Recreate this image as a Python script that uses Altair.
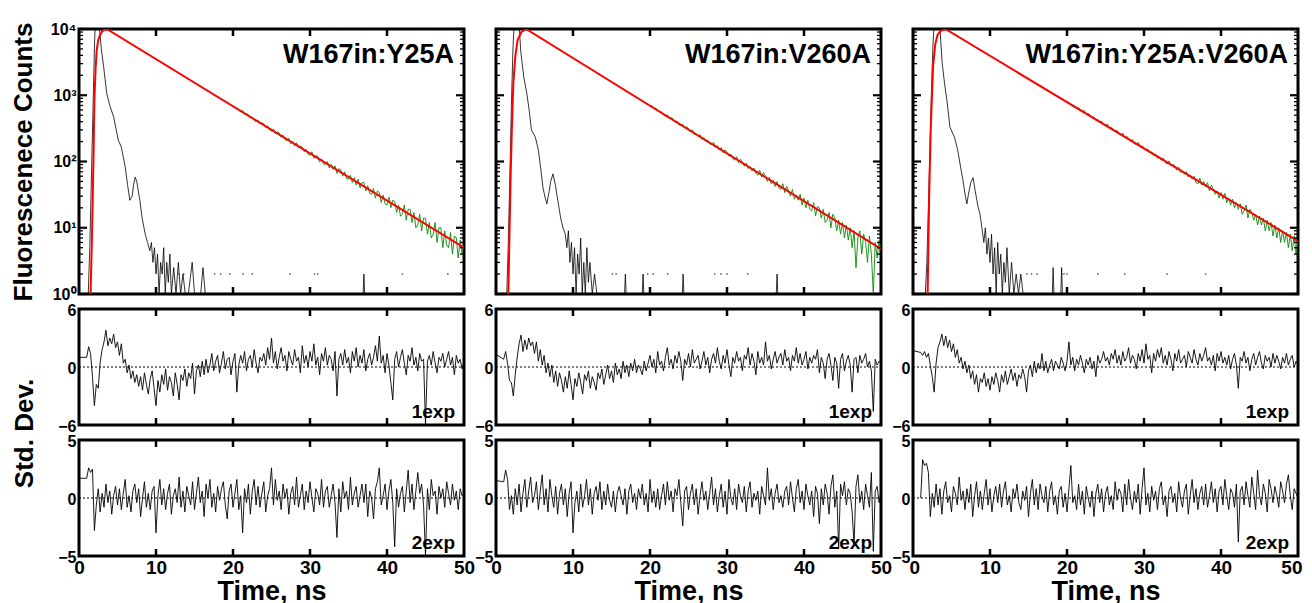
import altair as alt
import pandas as pd

FONT = "Liberation Sans"
W, HT, HR = 385, 265, 116

TITLES = ["W167in:Y25A", "W167in:V260A", "W167in:Y25A:V260A"]
XTICKS = [10, 20, 30, 40]
XLABELS = [0, 10, 20, 30, 40, 50]
LOG_MAJOR = [1, 10, 100, 1000, 10000]
LOG_MINOR = [2, 3, 4, 5, 6, 7, 8, 9, 20, 30, 40, 50, 60, 70, 80, 90,
             200, 300, 400, 500, 600, 700, 800, 900,
             2000, 3000, 4000, 5000, 6000, 7000, 8000, 9000]

# ---------------- instrument response (black) ----------------
IRF_T = [
    [1.0, 1.2, 1.4, 1.6, 1.8, 2.0, 2.1, 2.3, 2.5, 2.7, 2.9, 3.2, 3.6, 4.0, 4.5, 5.1, 5.5, 6.0, 6.3, 6.6,
     6.9, 7.1, 7.3, 7.5, 7.7, 7.9, 8.2, 8.6, 8.9, 9.2, 9.4, 9.6, 9.8, 10.0, 10.2, 10.4, 10.6, 10.8, 11.0,
     11.2, 11.4, 11.6, 11.8, 12.0, 12.3, 12.6, 12.9, 13.2, 13.5, 13.8, 14.2, 14.7, 15.0, 15.8, 16.1, 16.4,
     36.9, 37.0, 37.1],
    [1.0, 1.4, 1.6, 1.8, 2.0, 2.2, 2.4, 2.6, 2.9, 3.2, 3.6, 4.0, 4.3, 4.6, 5.1, 5.5, 5.8, 6.1, 6.4, 6.6,
     6.9, 7.1, 7.4, 7.7, 8.1, 8.4, 8.7, 9.0, 9.2, 9.4, 9.6, 9.8, 10.0, 10.2, 10.4, 10.6, 10.8, 11.0, 11.2,
     11.4, 11.6, 11.8, 12.0, 12.2, 12.5, 12.8, 13.1, 13.4, 16.7, 16.8, 16.9, 19.0, 19.1, 19.2, 24.2, 24.3,
     24.4, 36.4, 36.5, 36.6],
    [1.0, 1.6, 1.8, 2.0, 2.2, 2.4, 2.6, 2.8, 3.0, 3.3, 3.5, 3.8, 4.1, 4.4, 4.8, 5.4, 5.8, 6.2, 6.5, 6.8,
     7.0, 7.2, 7.5, 7.8, 8.1, 8.4, 8.7, 9.0, 9.2, 9.4, 9.6, 9.8, 10.0, 10.2, 10.4, 10.6, 10.8, 11.0, 11.2,
     11.4, 11.6, 11.8, 12.0, 12.2, 12.5, 12.8, 13.1, 13.4, 13.7, 14.0, 14.3, 18.1, 18.2, 18.3, 19.2, 19.3,
     19.4],
]
IRF_V = [
    [1, 1, 5, 50, 500, 5000, 12000, 20000, 20000, 9000, 5000, 2700, 1070, 700, 470, 210, 165, 83, 45, 26,
     30, 45, 58, 50, 36, 26, 14, 8, 6, 4.5, 6, 3, 5, 2, 4, 1, 3, 2, 5,
     1, 3, 1.5, 4, 1, 2.5, 1, 3, 1, 2, 1, 1, 3, 1, 1, 2.5, 1,
     1, 2, 1],
    [1, 1, 6, 60, 700, 5000, 15000, 20000, 20000, 4800, 1900, 1070, 600, 300, 235, 150, 80, 40, 28, 23,
     35, 50, 65, 45, 23, 14, 10, 8, 5, 9, 3, 6, 2, 5, 1, 4, 2, 7, 1,
     3, 1, 5, 1.5, 3, 1, 2, 1, 1, 1, 2, 1, 1, 2, 1, 1, 2,
     1, 1, 2, 1],
    [1, 1, 3, 20, 150, 1200, 6000, 15000, 20000, 20000, 10000, 3000, 1500, 840, 330, 230, 150, 80, 51, 30,
     23, 32, 48, 57, 35, 22, 16, 9, 6, 10, 4, 7, 3, 8, 2, 5, 1, 6, 2,
     4, 1, 3, 1.5, 5, 1, 3, 1, 2, 1, 2, 1, 1, 2.5, 1, 1, 2.5,
     1],
]
DOTS_T = [
    [13.0, 13.6, 17.6, 18.4, 19.6, 21.3, 22.5, 27.4, 30.6, 31.0, 42.0, 47.9],
    [15.1, 15.6, 19.7, 20.4, 22.3, 28.4, 29.2, 30.0, 32.7],
    [14.8, 15.4, 16.1, 19.6, 20.0, 24.0, 27.5, 33.0, 38.0],
]
DOT_LEVEL = 2.0

# ---------------- fit (red) ----------------
FIT_T = [
    [1.5, 1.65, 1.78, 1.9, 2.0, 2.15, 2.3, 2.5, 2.7, 3.0, 3.3, 3.6, 50.0],
    [1.6, 1.75, 1.9, 2.04, 2.25, 2.5, 2.8, 3.3, 3.9, 50.0],
    [1.9, 2.1, 2.3, 2.6, 2.9, 3.2, 3.6, 4.2, 50.0],
]
FIT_V = [
    [1, 5, 26, 150, 840, 2500, 4800, 6800, 8000, 9200, 9800, 10000, 5.0],
    [1, 8, 60, 260, 1500, 3800, 6800, 9000, 10000, 4.8],
    [1, 30, 300, 2700, 6000, 8200, 9400, 10000, 6.3],
]

# ---------------- decay data (green), t = 20 .. 50 every 0.25 ns ----------------
GREEN_T0, GREEN_DT = 20.0, 0.25
GREEN_V = [
    [700, 655, 640, 612, 560, 590, 520, 530, 510, 455, 470, 420, 400, 425, 370, 385,
     370, 325, 345, 300, 285, 310, 262, 280, 270, 232, 250, 215, 205, 225, 185, 200,
     172, 192, 160, 170, 165, 140, 152, 128, 125, 140, 112, 122, 120, 98, 110, 92,
     90, 100, 80, 90, 76, 86, 66, 78, 75, 60, 70, 55, 54, 62, 48, 57,
     44, 54, 40, 48, 48, 36, 43, 33, 32, 39, 28, 36, 34, 24, 31, 23,
     22, 29, 20, 26, 25, 17, 22, 15, 16, 22, 13, 19, 19, 12, 17, 10,
     11, 16, 9, 14, 14, 8, 12, 7, 8, 12, 6, 10, 10, 5, 9, 5.5,
     5, 8.5, 4, 7.5, 7, 3.5, 6.5, 4, 5.5],
    [680, 700, 630, 640, 600, 555, 560, 505, 480, 510, 445, 460, 440, 390, 410, 360,
     350, 365, 320, 335, 315, 280, 300, 255, 260, 240, 255, 215, 230, 200, 210, 185,
     180, 195, 165, 175, 150, 162, 135, 150, 138, 120, 130, 110, 105, 118, 96, 108,
     98, 85, 94, 78, 84, 72, 80, 66, 62, 74, 58, 68, 60, 50, 58, 46,
     52, 42, 50, 40, 38, 46, 34, 42, 36, 30, 38, 27, 31, 26, 32, 22,
     28, 20, 26, 19, 18, 24, 15, 21, 20, 14, 19, 12, 13, 17, 10, 16,
     14, 9, 13, 8, 12, 7, 11, 6.5, 10, 5, 9, 2.5, 7, 9, 4, 8,
     6, 3, 7.5, 4, 1.0, 6, 3.5, 6.5, 4.5],
    [810, 760, 740, 700, 690, 640, 650, 590, 560, 590, 520, 530, 500, 460, 470, 420,
     430, 395, 405, 360, 345, 370, 320, 330, 310, 280, 295, 260, 250, 270, 230, 240,
     225, 200, 215, 185, 180, 195, 165, 172, 162, 145, 155, 135, 140, 124, 130, 112,
     118, 104, 112, 96, 92, 102, 86, 90, 86, 74, 82, 68, 72, 64, 70, 58,
     62, 54, 60, 48, 46, 56, 44, 50, 42, 48, 36, 44, 38, 32, 36, 28,
     34, 27, 33, 24, 28, 22, 27, 20, 24, 19, 23, 16, 18, 22, 14, 19,
     17, 13, 16, 11, 15, 11, 14, 9, 13, 9, 12, 7.5, 11, 7, 10, 6,
     9, 6, 8.5, 5, 8, 4.5, 7.5, 4, 6.5],
]

# ---------------- weighted residuals, grid t = 1.0 .. 50 every 0.25 ns ----------------
RES_T0, RES_DT = 1.0, 0.25
LEAD_1EXP = [(0.0, 1.0), (0.0, 1.3), (0.0, 1.7)]
LEAD_2EXP = [(0.0, 1.7), (0.0, 1.5), None]

RES_1EXP = [
    [1.0, 2.1, 1.4, -1.0, -4.0, -1.8, -2.2, 0.5, 1.8, 2.6, 3.8, 2.2, 3.0, 2.4, 3.4, 2.0,
     2.6, 1.2, 2.4, 0.4, 0.8, -0.6, 0.2, -1.2, -0.4, -1.6, -0.8, -2.0, -1.0, -2.4, -0.6, -1.8,
     -2.8, -1.2, -0.4, -2.2, -4.0, -1.4, -2.6, -0.8, -1.8, -0.2, -2.4, -1.0, -1.6, -3.0, -0.6, -1.8,
     -3.4, -0.8, -1.4, -0.2, -2.0, -0.6, -1.2, 0.4, -2.8, -0.4, 0.2, -1.0, 0.6, -0.8, 0.8, -0.6,
     0.2, 1.4, -0.4, 0.6, 1.2, -0.6, 0.4, 1.6, -0.2, 0.8, 1.0, -0.8, 0.6, 1.4, -2.6, 0.2,
     1.2, 0.4, 1.6, -0.4, 0.8, 1.2, 0.0, 1.8, 0.4, -0.6, 1.0, 0.6, 1.4, 0.2, 2.0, 0.8,
     3.0, 0.4, 1.6, -0.2, 1.0, 2.0, 0.6, 1.2, -0.4, 1.6, 0.8, 0.2, 1.8, 0.6, 1.0, -0.6,
     2.2, 0.4, 1.2, 0.0, 1.6, 0.6, 2.4, 0.2, 1.0, -0.8, 1.4, 0.6, 2.0, 0.2, 1.2, 0.8,
     -0.4, 1.6, -3.0, 0.8, 1.4, 0.2, 1.8, 0.4, 1.0, -0.6, 1.6, 0.6, 2.0, 0.0, 1.2, 0.4,
     1.8, -0.4, 0.8, 1.4, 0.2, 1.0, 2.2, 0.6, 3.2, 0.4, 1.2, -0.6, 1.4, 0.2, -1.6, -3.4,
     0.8, 1.6, 0.0, 1.0, 1.8, 0.4, -0.8, 1.2, 0.6, 2.0, 0.2, 1.0, -0.4, 1.4, 0.6, 0.8,
     -6.0, 0.6, 1.2, 0.2, 1.6, 0.4, -0.6, 1.0, 0.6, 1.4, 0.0, 0.8, 1.6, 0.2, 1.0, -0.8,
     1.2, 0.4, 0.8, -0.2, 0.6],
    [0.8, 1.6, 0.4, -1.4, -1.6, -3.0, -0.8, 1.0, 2.4, 3.3, 1.6, 2.8, 1.8, 3.0, 2.2, 2.6,
     1.4, 2.6, 0.6, 1.8, 0.2, 1.2, -0.6, 0.4, -1.0, 0.2, -1.6, -0.4, -2.0, -0.6, -1.4, -2.6,
     -1.0, -2.2, -0.4, -1.8, -3.4, -1.2, -2.0, -0.6, -1.6, -2.8, -0.8, -1.4, -0.4, -2.2, -1.0, -1.6,
     -2.4, -0.6, -1.2, -0.2, -1.8, -0.8, 0.2, -1.2, -0.4, -1.6, 0.4, -0.8, -0.2, -1.2, 0.6, -0.6,
     0.2, -1.0, 0.4, -0.4, 0.8, -0.6, 0.2, -0.2, -0.8, 0.6, -0.4, 0.4, 1.2, 0.0, 0.8, -0.6,
     1.6, 0.2, 0.6, -0.4, 1.0, 2.0, 0.2, 0.8, -0.2, 1.2, 0.4, 1.6, 0.6, -1.4, 0.8, 0.2,
     1.4, 0.0, 1.8, 0.4, 0.8, 1.2, -0.2, 0.6, 1.6, 0.2, 1.0, -0.6, 0.8, 1.4, 0.4, 2.0,
     0.6, -0.2, 1.2, 0.4, 1.8, 0.2, -1.0, 1.0, 0.4, 1.6, 0.6, 1.0, -0.4, 1.2, 0.8, 2.0,
     0.2, 1.4, 0.6, -0.8, 1.6, 0.4, 1.0, 0.2, 2.6, 0.6, 1.2, -0.2, 0.8, 1.6, 0.4, 1.0,
     1.4, 0.2, 1.8, 0.6, 1.0, -0.4, 1.2, 0.6, 2.0, 0.4, 1.4, 0.2, 0.8, 1.6, -0.2, 1.0,
     0.4, 1.2, 0.8, 1.8, -0.6, 1.0, 0.4, -1.2, 0.8, 1.4, 0.2, -1.4, 1.0, 0.4, -2.2, 0.8,
     1.4, -0.4, 0.6, 1.2, 0.2, -2.6, 0.8, 1.0, -0.6, 1.2, 0.4, 0.8, 1.4, 0.0, 0.6, -0.4,
     -4.6, 0.8, 0.2, 0.6, 0.4],
    [1.5, 1.2, 1.6, 1.0, 1.4, 0.2, -1.0, -2.6, 0.4, 2.0, 2.6, 3.4, 2.2, 3.2, 2.0, 2.8,
     1.6, 2.4, 1.0, 1.8, 0.4, 1.0, -0.2, 0.6, -0.6, 0.2, -1.2, -0.4, -1.8, -0.8, -2.6, -1.2,
     -1.6, -0.6, -2.0, -1.2, -2.4, -1.0, -1.8, -0.6, -1.4, -2.6, -0.8, -1.6, -0.4, -1.8, -1.0, -0.2,
     -1.4, -0.6, -2.0, -0.8, -1.2, -0.2, -1.0, -2.6, -0.4, 0.2, -1.0, 0.6, -0.6, 0.4, -0.2, 1.4,
     -0.4, 0.6, -0.6, 0.2, 0.8, -0.4, 0.6, 0.2, -0.2, 1.0, 0.4, -0.4, 0.6, 2.6, 0.2, 1.0,
     -0.4, 0.8, 0.2, 1.2, 0.4, -0.6, 0.8, 0.2, 1.0, -0.2, 0.6, -1.0, 1.2, 0.4, 0.8, 1.6,
     0.6, 1.0, 0.2, 1.4, 0.8, 1.8, 0.4, 1.2, 0.2, 1.6, 0.6, 1.0, 2.0, 0.4, 1.2, 0.8,
     -0.2, 1.4, 0.6, 1.8, 0.4, 2.4, 0.8, 1.2, -0.6, 1.4, 0.6, 1.8, 1.0, 2.0, 0.4, 1.2,
     0.2, 1.6, 0.8, -0.4, 1.4, 0.6, 1.8, 0.4, 0.8, 1.2, 0.0, 1.6, 1.0, 0.4, 1.8, 0.8,
     0.2, 1.4, 0.6, 1.2, 2.0, 0.6, 1.0, 0.2, 1.2, -0.4, 1.4, 0.6, 1.6, 0.4, 1.0, 0.2,
     1.2, -0.2, 0.8, 1.4, 0.2, -2.2, 1.0, 0.6, 1.6, 0.4, 1.0, -0.4, 0.8, 1.4, 0.2, 1.0,
     1.6, 0.4, -0.2, 1.2, 0.6, 1.0, 0.0, 1.4, 0.4, 1.2, 0.6, -0.2, 1.0, 0.4, 1.4, 0.2,
     0.8, 1.2, 0.0, 0.6, 0.2],
]
RES_2EXP = [
    [1.7, 2.6, 2.2, 2.5, -2.8, -0.6, 0.8, -1.2, 0.4, -0.8, 1.2, -0.4, 0.6, -1.4, 0.2, 1.0,
     -0.6, 0.8, -1.0, 0.4, 1.6, -0.8, 0.2, -1.2, 0.6, 1.2, -0.4, 0.8, -1.6, 0.0, 1.4, -0.8,
     0.4, -1.0, 0.6, 1.0, -3.0, 0.2, 1.6, -0.6, 0.8, -1.0, 0.4, 1.2, -1.4, 0.2, 0.8, -0.4,
     1.8, -0.8, 0.6, -1.2, 1.0, 0.2, -0.6, 1.4, -1.0, 0.4, 1.8, -0.4, 0.6, -1.6, 1.2, 0.0,
     1.6, -0.8, 0.4, -1.2, 1.0, -0.2, 0.8, 1.4, -0.6, -1.8, 0.6, 1.2, -0.8, 0.4, 1.6, -1.0,
     0.2, -3.0, 0.8, -0.4, 1.2, -1.4, 0.6, 1.6, -0.6, 1.0, -0.8, 0.4, 1.4, -1.2, 0.2, 0.8,
     2.6, -0.6, 1.6, -0.2, 0.6, -1.0, 1.2, 0.0, 0.8, -1.4, 0.4, 1.0, -0.6, 1.8, -0.8, 0.2,
     1.2, -1.0, 0.6, -0.4, 1.4, 0.0, -1.2, 0.8, 0.4, -0.6, 1.6, -0.8, 0.6, 1.0, -0.8, 0.2,
     1.2, -0.4, -3.4, 0.8, -1.2, 1.4, 0.0, 0.6, -1.0, 1.8, -0.6, 0.4, 1.0, -0.8, 0.2, 1.2,
     -0.4, 1.2, -1.6, 0.6, 0.0, -1.8, 0.8, 1.4, 2.6, -0.6, 0.2, 1.2, -1.0, 0.6, 1.6, -0.4,
     -4.2, 0.8, -0.8, 0.4, 1.0, -1.2, 0.6, 2.4, -0.4, 1.2, -1.0, 0.6, 2.2, 0.4, 1.2, -0.6,
     -5.0, 0.8, -1.0, 1.6, 0.2, 0.6, -1.4, 1.0, 0.0, 0.8, -0.8, 1.4, 0.4, -0.6, 1.2, -0.2,
     0.6, -1.0, 0.8, 0.2, 0.4],
    [1.4, 2.4, 1.6, -1.0, 0.2, -1.4, 0.8, -0.6, 1.2, -1.2, 0.4, 1.6, -0.8, 0.6, 1.8, -0.4,
     0.2, 1.4, -1.0, 0.6, 2.0, -0.6, 0.8, -1.2, 1.6, 0.2, -0.8, 1.0, -1.4, 0.4, 1.2, -0.6,
     0.8, -1.6, 0.4, 1.4, -3.0, -0.4, 0.6, -1.2, 1.2, -0.8, 0.2, 1.6, -0.6, 0.8, -1.4, 0.4,
     1.0, -0.2, 1.4, -1.0, 0.6, -0.6, 1.2, -0.2, -0.8, 0.6, -1.2, 0.4, 1.0, 0.2, -0.6, 0.8,
     -1.4, 0.6, 1.2, -0.4, 0.4, -1.0, 0.8, 0.0, 1.2, -0.6, 0.4, -1.2, 1.6, -0.4, 0.6, -0.8,
     0.8, -1.0, 0.2, 1.2, -0.6, 1.4, -0.2, 0.6, -1.2, 0.8, 0.2, 1.6, -0.4, -2.4, 0.6, 1.0,
     -1.0, 0.4, 1.2, -0.6, 0.8, -1.4, 0.2, 1.4, -0.2, 0.6, -1.0, 0.4, 1.8, -0.6, 0.8, -1.2,
     0.2, 1.2, -0.8, 0.6, -1.4, 1.6, 0.0, -0.6, 0.8, -1.0, 1.2, 0.2, -0.4, 1.0, -1.2, 0.6,
     1.4, -0.8, 0.4, -0.2, 0.6, -1.4, 1.0, 0.2, -0.6, 2.6, -0.2, 0.8, -1.0, 0.4, 1.2, -0.4,
     0.2, -0.8, 0.6, 1.0, -0.6, 1.4, 0.0, -1.2, 0.8, 1.6, -0.4, 0.6, -1.0, 1.2, 0.2, -0.6,
     0.6, -1.6, 1.0, 0.4, -2.2, 0.8, -0.6, 1.2, 0.4, -1.4, 1.0, 2.0, -0.8, 0.6, -4.4, 1.2,
     0.2, 1.4, -0.6, 0.8, 0.4, -1.2, -4.0, 1.0, 2.0, -0.4, 0.6, -1.0, 1.2, 0.2, -0.8, 2.2,
     -4.6, 0.6, 1.0, -0.4, 0.6],
    [0.0, 3.3, 2.8, 3.0, 2.2, -1.6, 0.4, -0.8, 1.2, -0.6, 0.8, -1.4, 0.6, 1.4, -0.4, 0.2,
     -1.2, 1.0, 0.4, -0.6, 1.8, -0.2, 0.6, -1.0, 0.8, -0.4, 1.2, -1.6, 0.2, 1.4, -0.8, 0.6,
     -1.0, 0.4, 1.6, -0.6, 0.8, -1.2, 0.2, 1.0, -0.4, 1.2, -0.8, 0.6, 1.4, -0.6, 0.2, -1.2,
     0.8, 0.0, 1.2, -0.4, -1.0, 0.6, -0.2, 1.0, -1.6, 0.4, 1.6, -0.6, 0.8, -1.0, 1.2, 0.2,
     -0.4, 1.0, -1.2, 0.6, 1.4, -0.6, 0.2, -1.4, 0.6, 1.0, -0.8, 0.4, -1.2, 0.8, 2.8, -0.4,
     0.2, -1.0, 1.2, -0.6, 0.6, -1.4, 1.0, 0.0, -0.8, 0.6, -1.6, 0.4, 1.2, -0.4, 0.8, -1.2,
     0.4, 1.0, -0.6, 0.2, -1.0, 1.4, -0.2, 0.8, 0.4, -1.2, 1.2, -0.6, 1.6, 0.0, -1.0, 0.6,
     -0.4, 1.2, -1.4, 0.8, 2.6, -0.6, 0.4, -1.2, 1.0, -0.2, 0.6, -1.0, 0.8, 1.4, -0.6, 0.2,
     -1.6, 0.6, 1.0, -0.4, 0.4, -1.2, 1.4, 0.0, -0.8, 0.6, 1.2, -1.4, 0.2, 1.6, -0.4, 0.8,
     -1.0, 0.4, 1.0, -0.6, 1.2, -0.8, 0.2, 1.4, -0.4, 0.8, -1.2, 0.6, 1.0, -0.6, 1.6, 0.2,
     -1.0, 0.8, 0.4, -0.8, 1.2, -3.8, 0.6, 1.0, -0.6, 1.4, 0.2, -0.8, 1.8, 0.4, -1.0, 2.4,
     0.2, -0.6, 1.2, 0.4, -1.2, 1.6, 0.8, -0.4, 1.0, 0.2, -0.8, 1.4, 0.6, -0.4, 1.2, 2.0,
     0.2, -1.0, 0.8, 0.4, 0.0],
]

LOG_LABELS = ("datum.value < 5 ? '10\u2070' : datum.value < 50 ? '10\u00b9' : "
              "datum.value < 500 ? '10\u00b2' : datum.value < 5000 ? '10\u00b3' : '10\u2074'")

xscale = alt.Scale(domain=[0, 50], nice=False, zero=False)


def grid(t0, dt, n):
    return [round(t0 + dt * i, 4) for i in range(n)]


def x_ticks(xenc, h):
    d = pd.DataFrame({"t": XTICKS})
    top = alt.Chart(d).mark_rule(color="black", strokeWidth=2.5).encode(
        x=xenc, y=alt.value(0), y2=alt.value(7))
    bot = alt.Chart(d).mark_rule(color="black", strokeWidth=2.5).encode(
        x=xenc, y=alt.value(h - 7), y2=alt.value(h))
    return [top, bot]


def top_panel(c):
    yscale = alt.Scale(type="log", domain=[1, 10000], nice=False)
    if c == 0:
        yax = alt.Axis(values=LOG_MAJOR, labelExpr=LOG_LABELS, labelFontSize=16,
                       labelPadding=3, title="Fluorescenece Counts", titleFontSize=26,
                       titleX=-56, titleY=HT / 2, titleBaseline="middle")
        yenc = alt.Y("v:Q", scale=yscale, axis=yax)
    else:
        yenc = alt.Y("v:Q", scale=yscale, axis=None)
    xenc = alt.X("t:Q", scale=xscale, axis=None)

    irf = alt.Chart(pd.DataFrame({"t": IRF_T[c], "v": IRF_V[c]})).mark_line(
        color="black", strokeWidth=0.8, clip=True).encode(x=xenc, y=yenc)
    dots = alt.Chart(pd.DataFrame({"t": DOTS_T[c], "v": [DOT_LEVEL] * len(DOTS_T[c])})).mark_point(
        shape="square", filled=True, size=2, color="black", opacity=0.7).encode(x=xenc, y=yenc)
    gdf = pd.DataFrame({"t": grid(GREEN_T0, GREEN_DT, len(GREEN_V[c])), "v": GREEN_V[c]})
    green = alt.Chart(gdf).mark_line(color="#0a8a0a", strokeWidth=0.9, clip=True).encode(x=xenc, y=yenc)
    fit = alt.Chart(pd.DataFrame({"t": FIT_T[c], "v": FIT_V[c]})).mark_line(
        color="#ff0000", strokeWidth=2, clip=True).encode(x=xenc, y=yenc)

    minor = pd.DataFrame({"v": LOG_MINOR})
    major = pd.DataFrame({"v": LOG_MAJOR})
    ticks = []
    for d, ln, sw in ((minor, 4, 1.3), (major, 8, 2.2)):
        ticks.append(alt.Chart(d).mark_rule(color="black", strokeWidth=sw).encode(
            y=yenc, x=alt.value(0), x2=alt.value(ln)))
        ticks.append(alt.Chart(d).mark_rule(color="black", strokeWidth=sw).encode(
            y=yenc, x=alt.value(W - ln), x2=alt.value(W)))

    label = alt.Chart(pd.DataFrame({"label": [TITLES[c]]})).mark_text(
        align="right", baseline="alphabetic", font=FONT, fontSize=27, fontWeight="bold",
        color="black").encode(x=alt.value(W - 10), y=alt.value(34), text="label:N")

    return alt.layer(irf, dots, green, fit, *ticks, *x_ticks(xenc, HT), label).properties(
        width=W, height=HT)


def res_panel(c, which):
    if which == 1:
        vals, lead, lim, tag = RES_1EXP[c], LEAD_1EXP[c], 6, "1exp"
    else:
        vals, lead, lim, tag = RES_2EXP[c], LEAD_2EXP[c], 5, "2exp"
    t = grid(RES_T0, RES_DT, len(vals))
    v = list(vals)
    if lead is not None:
        t = [lead[0]] + t
        v = [lead[1]] + v
    df = pd.DataFrame({"t": t, "v": v})

    ykw = dict(values=[-lim, 0, lim], labelFontSize=16, labelPadding=3, labelOffset=1)
    if c == 0 and which == 1:
        yax = alt.Axis(title="Std. Dev.", titleFontSize=26, titleX=-55, titleY=124,
                       titleBaseline="middle", **ykw)
    else:
        yax = alt.Axis(title=None, **ykw)
    yenc = alt.Y("v:Q", scale=alt.Scale(domain=[-lim, lim], nice=False, zero=False), axis=yax)

    if which == 2:
        xkw = dict(values=XLABELS, title="Time, ns", labelFontSize=19, labelPadding=2,
                   titleFontSize=27, titlePadding=1, format="d")
        if c == 2:
            xax = alt.Axis(labelFlush=True, labelFlushOffset=4, **xkw)
        else:
            xax = alt.Axis(**xkw)
        xenc = alt.X("t:Q", scale=xscale, axis=xax)
    else:
        xenc = alt.X("t:Q", scale=xscale, axis=None)

    zero = alt.Chart(pd.DataFrame({"v": [0]})).mark_rule(
        color="black", strokeWidth=1, strokeDash=[2, 2]).encode(
        y=yenc, x=alt.value(0), x2=alt.value(W))
    line = alt.Chart(df).mark_line(color="black", strokeWidth=0.9, clip=True).encode(x=xenc, y=yenc)
    label = alt.Chart(pd.DataFrame({"label": [tag]})).mark_text(
        align="right", baseline="alphabetic", font=FONT, fontSize=19, fontWeight="bold",
        color="black").encode(x=alt.value(W - 9), y=alt.value(HR - 7), text="label:N")
    return alt.layer(zero, line, *x_ticks(xenc, HR), label).properties(width=W, height=HR)


panels = ([top_panel(c) for c in range(3)]
          + [res_panel(c, 1) for c in range(3)]
          + [res_panel(c, 2) for c in range(3)])

chart = alt.concat(*panels, columns=3, spacing={"row": 15, "column": 32}, bounds="flush").properties(
    padding={"left": 0, "top": 11, "right": 0, "bottom": 0}
).configure_view(
    stroke="black", strokeWidth=3
).configure_axis(
    labelFont=FONT, titleFont=FONT, labelFontWeight="bold", titleFontWeight="bold",
    labelColor="black", titleColor="black", grid=False, domain=False, ticks=False,
    labelFlush=False
)

chart.save("out.html", embed_options={"renderer": "svg", "actions": False})
